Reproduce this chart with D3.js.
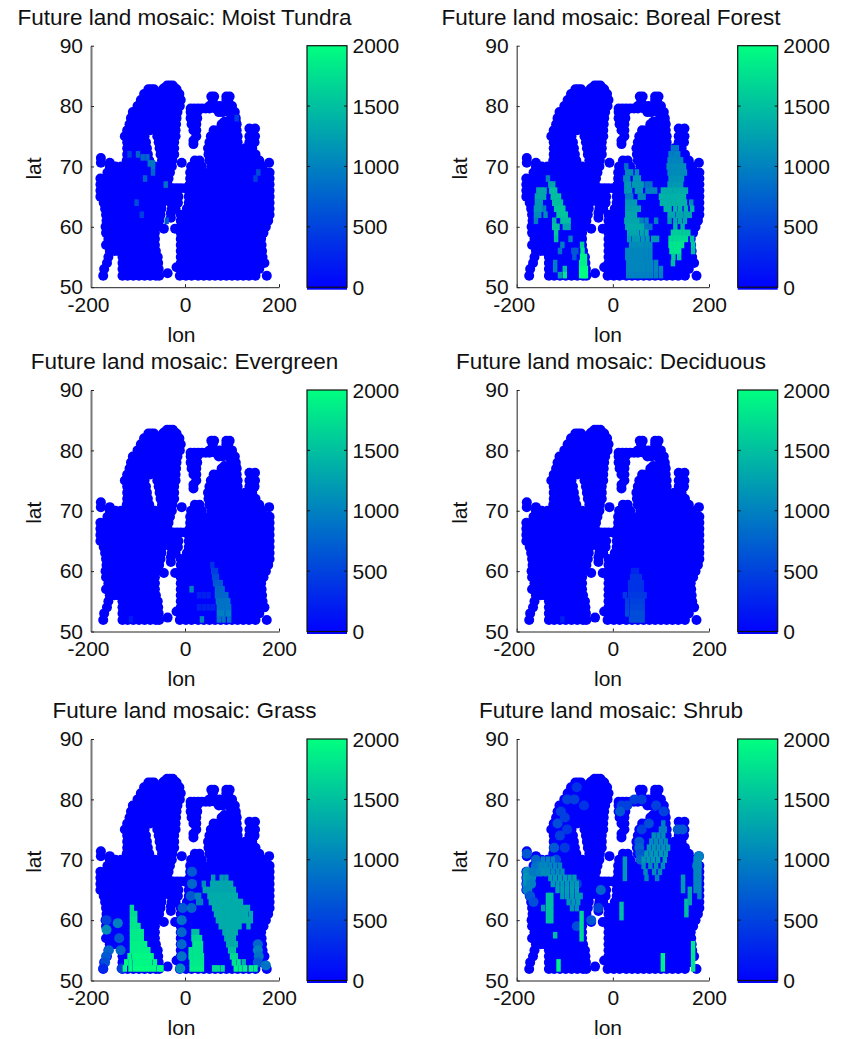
<!DOCTYPE html>
<html lang="en">
<head>
<meta charset="utf-8">
<title>Future land mosaic</title>
<script src="https://d3js.org/d3.v7.min.js"></script>
<style>
  body { margin: 0; background: #fff; }
  svg { display: block; }
  text { font-family: "Liberation Sans", Arial, sans-serif; fill: #111; }
</style>
</head>
<body>
<script>
// tick labels
const lonTicks = [-200, 0, 200];
const latTicks = [50, 60, 70, 80, 90];
const barTicks = [0, 500, 1000, 1500, 2000];

// land points, one lon list per lat row
const naMid = [-134, -122, -110, -98, -86, -74];
const euMid = [28, 40, 52, 64, 76, 88, 100, 112, 124, 136];
const landLat = [83.4, 83, 82.8, 82, 81.6, 81, 80, 79.6, 79, 78, 77.4, 77, 76.3, 76, 75, 74.3, 74, 73.7, 73, 72, 71.4, 71, 70.6, 70, 69, 68, 67, 66.4, 66, 65, 64, 63, 62.3, 62, 61.5, 61, 60, 59.7, 59, 58, 57, 56, 55, 54, 53.3, 53, 52.3, 51.9];
const landLon = [
  [-38, -32, -26],
  [-44, -36, -28, -22],
  [-78, -72, -66, -47, -18],
  [-87, -78, -68, -58, -48, -38, -28, -18, -12],
  [56, 62, 88, 95],
  [-94, -84, -74, -62, -50, -38, -26, -14, -9, 59, 88, 92],
  [-101, -90, -78, -66, -54, -42, -30, -18, -11, 52, 59, 66, 74, 84, 92, 100],
  [12, 20, 28, 36, 44, 52, 64],
  [-111, -100, -88, -76, -64, -52, -40, -28, -16, 12, 20, 26, 72, 80, 92, 100, 106],
  [-115, -104, -92, -80, -68, -56, -44, -32, -18, 12, 20, 26, 100, 108],
  [84, 92, 100, 108],
  [-118, -106, -94, -82, -70, -58, -46, -34, -19, 14, 20, 24, 78, 86, 94, 102, 110],
  [137, 149],
  [-123, -110, -98, -86, -74, -62, -50, -38, -20, 18, 24, 61, 70, 80, 90, 100, 110],
  [-128, -116, -104, -86, -59, -44, -32, -20, 24, 55, 65, 75, 85, 95, 105, 112, 137, 149],
  [18],
  [-123, -110, -98, -83, -56, -42, -30, -23, 52, 62, 72, 82, 92, 102, 112, 137, 148],
  [18],
  [-123, -110, -96, -81, -54, -42, -30, -23, 49, 58, 68, 78, 88, 98, 108, 114, 128, 136, 143],
  [-123, -110, -96, -79, -52, -40, -30, -23, 50, 60, 70, 80, 90, 100, 110, 120, 130, 140, 150],
  [-179],
  [-124, -112, -100, -88, -76, -49, -38, -27, 21, 31, 52, 62, 72, 84, 96, 108, 120, 132, 144, 158],
  [-179, -160, -7, 179],
  [-160, -148, -136, -124, -112, -100, -88, -76, -64, -52, -40, -28, 13, 22, 30, 36, 57, 68, 80, 92, 104, 116, 128, 140, 152, 165],
  [-165, -152, -140, ...naMid, -62, -50, -40, -32, 11, 20, ...euMid, 148, 160, 172, 180],
  [-180, -170, -158, -146, ...naMid, -62, -50, -35, 11, 20, ...euMid, 148, 160, 172, 180],
  [-180, -170, -158, -146, ...naMid, -62, -50, -37, 10, 18, ...euMid, 148, 160, 172, 180],
  [-25, -17, -9, 0],
  [-180, -170, -158, -146, ...naMid, -62, -50, -41, 8, 18, ...euMid, 148, 160, 172, 180],
  [-180, -170, -158, -146, ...naMid, -62, -52, -44, -30, -22, -14, 8, 18, ...euMid, 148, 160, 172, 180],
  [-173, -162, -150, -140, ...naMid, -62, -54, -48, -30, -22, -15, 8, 18, ...euMid, 148, 160, 172, 180],
  [-170, -158, -146, ...naMid, -62, -50, -28, -20, 4, 14, ...euMid, 148, 160, 172, 180],
  [-30],
  [-168, -158, -146, ...naMid, -62, -52, -9, 2, 14, ...euMid, 148, 160, 172, 180],
  [-30],
  [-167, -158, -146, ...naMid, -62, -55, -9, 2, 14, ...euMid, 148, 160, 170, 177],
  [-169, -158, -146, ...naMid, -62, -60, -9, 2, 14, ...euMid, 148, 160, 172],
  [-45, -21],
  [-168, -156, -146, ...naMid, -64, -9, 2, 14, ...euMid, 148, 160, 167],
  [-163, -150, -140, ...naMid, -64, -9, 2, 14, ...euMid, 148, 158, 162],
  [-168, -156, -146, ...naMid, -64, -9, 2, 14, ...euMid, 148, 158, 163],
  [-160, -150, -142, ...naMid, -62, -9, 2, 14, ...euMid, 148, 158, 164],
  [-163, -133, -122, -110, -98, -86, -74, -62, -58, -9, 2, 14, ...euMid, 148, 160, 165],
  [-166, -133, -122, -110, -98, -86, -74, -62, -57, -9, 2, 14, ...euMid, 148, 160, 169],
  [-18],
  [-172, -133, -122, -110, -98, -86, -74, -62, -56, -10, 2, 14, ...euMid, 148, 158],
  [-37],
  [-174, -133, -122, -110, -98, -86, -74, -62, -55, -11, 2, 14, ...euMid, 150, 174]
];

// coloured cells as [value, lat, [lons]]: "big" draw as full markers, "fine" show as streaks
const tundraFine = [
  [800, 72, [-100]], [500, 72, [-118]], [800, 71.5, [-90, -80]], [950, 70.5, [-75, -68]],
  [900, 70, [-68]], [800, 69, [-68]], [750, 68, [-85]], [900, 67, [-41]], [600, 64, [-103]],
  [500, 62, [-92]], [700, 61, [-39]], [600, 69, [156]], [500, 68, [150]], [500, 78, [110]]
];
const borealFine = [
  [1000, 68, [-135]], [1300, 67, [-130, -124]],
  [1300, 66, [-155, -148, -142]], [1500, 66, [-128, -120]],
  [1300, 65, [-158, -150, -143]], [1500, 65, [-125, -118, -112]],
  [1200, 64, [-158, -150]], [1500, 64, [-122, -115, -108]],
  [1200, 63, [-160, -152]], [1000, 63, [-143]], [1550, 63, [-118, -110, -103]],
  [1100, 62, [-160, -153, -140]], [1550, 62, [-113, -105, -98]],
  [1000, 61, [-160]], [1400, 61, [-122]], [1500, 61, [-105, -98, -92]],
  [1500, 60, [-122, -115]], [1300, 60, [-100, -92]], [1600, 59, [-118]], [1500, 58, [-118]],
  [1000, 58, [-88]], [1000, 57, [-105]], [1600, 57, [-64]], [900, 56, [-110]], [1800, 56, [-63]],
  [700, 56, [-82, -76]], [700, 55, [-80]], [1000, 54, [-120]], [1000, 53, [-120]],
  [1900, 55, [-64, -58]], [1900, 54, [-66, -58]], [2000, 53, [-66, -60, -56]], [1500, 53, [-100]],
  [2000, 52, [-66, -60, -56]], [1800, 52, [-100]], [1200, 52, [-110]],
  [900, 73, [125, 133]], [1000, 72, [120, 128, 136]], [1050, 71, [118, 126, 134, 142]],
  [900, 70, [28]], [1100, 70, [116, 124, 132, 140, 148]],
  [1100, 69, [30, 38, 50, 118, 126, 134, 142, 150]],
  [1100, 68, [26, 32]], [1200, 68, [46, 54]], [1150, 68, [120, 128, 136, 144]],
  [1200, 67, [28, 34, 44, 52, 60, 118, 126, 134, 142]], [900, 67, [70, 78]],
  [1200, 66, [28, 36, 50, 58]], [1000, 66, [72, 80, 88]], [1350, 66, [104, 112, 120, 128, 136, 144, 152]],
  [1000, 65, [30, 38]], [1100, 65, [56, 64]], [1400, 65, [100, 108, 116, 124, 132, 140, 148]],
  [1200, 64, [30, 38, 46]], [1400, 64, [102, 110, 118, 126, 134, 142, 150]], [1100, 64, [163]],
  [1250, 63, [30, 38, 46, 54]], [1400, 63, [110, 118, 130, 140, 152, 165]],
  [1300, 62, [30, 38, 46, 118, 125, 135, 143, 152, 160]],
  [1300, 61, [28, 36, 44, 52, 130, 140, 150]], [1000, 61, [60, 70, 90]], [1200, 61, [118]],
  [1350, 60, [30, 38, 46, 54, 62]], [900, 60, [70, 78]], [1400, 60, [130, 145]],
  [1300, 59, [34, 42, 50, 60, 70]], [1600, 59, [125, 133, 141, 149, 157]],
  [1200, 58, [34, 44, 52, 62, 72, 84, 92]], [1700, 58, [120, 128, 136, 144, 152]], [1500, 58, [165]],
  [1100, 57, [38, 46, 54, 62, 70, 78]], [1800, 57, [120, 128, 136, 144]], [1600, 57, [167]],
  [1050, 56, [30, 38, 46, 54, 62, 70, 78]], [1800, 56, [122, 130, 138]], [1500, 56, [167]],
  [1050, 55, [30, 38, 46, 54, 62, 70, 78]], [1600, 55, [126, 138]],
  [1050, 54, [32, 40, 48, 56, 64, 72, 80, 90]], [1500, 54, [125]],
  [1050, 53, [32, 40, 48, 56, 64, 72, 80, 90, 100]], [1000, 52, [32, 40, 48, 56, 64, 72, 80, 90, 100]]
];
const evergreenFine = [
  [400, 61, [58]], [500, 60, [60, 66]], [600, 59, [62, 68]], [700, 58, [64, 70, 76]], [1000, 57, [14]],
  [800, 57, [68, 74, 80]], [800, 56, [68, 74, 80, 88]], [900, 55, [70, 78, 86, 92]],
  [900, 54, [72, 80, 88, 94]], [1000, 53, [72, 80, 90, 94]], [900, 52, [72, 82, 94]], [1000, 52, [36]],
  [250, 56, [30, 40, 50]], [250, 54, [30, 40, 50, 60]], [200, 52, [-115]]
];
const deciduousFine = [
  [300, 60, [42, 50]], [400, 59, [40, 48, 56]], [400, 58, [36, 44, 52, 60]], [400, 57, [36, 44, 52, 60]],
  [450, 56, [25, 36, 44, 52, 58, 66]], [500, 55, [30, 40, 48, 56, 62]], [550, 54, [30, 40, 48, 56, 62]],
  [600, 53, [30, 40, 48, 56, 62]], [600, 52, [38, 46, 54, 62]], [250, 52, [-105]]
];
const grassBig = [
  [500, 60, [-167]], [1100, 58.4, [-167]], [1000, 59.5, [-143]], [700, 57, [-140]], [800, 55, [-162]],
  [800, 55, [-137]], [700, 54, [-168]], [600, 53, [-170]], [500, 52, [-135]], [300, 52, [-174]],
  [700, 62, [-5]], [900, 60, [-7]], [800, 58, [-7]], [800, 56, [-7]], [900, 54, [-7]], [1100, 52, [-10]],
  [700, 68, [15]], [800, 66, [15]], [700, 64, [12]], [800, 62, [14]],
  [800, 56, [155]], [1000, 55, [155]], [900, 54, [157]], [700, 53, [155]], [900, 52.5, [172]]
];
const grassFine = [
  [1700, 62, [-113]], [1750, 61, [-113, -106]], [1800, 60, [-113, -106]], [1800, 59, [-113, -106, -99]],
  [1850, 58, [-113, -106, -99, -92]], [1850, 57, [-113, -106, -99, -92]],
  [1900, 56, [-113, -106, -99, -92, -85]], [1900, 55, [-113, -106, -99, -92, -85, -78]],
  [1950, 54, [-118, -108, -100, -92, -84, -76, -71]], [1950, 53, [-125, -116, -106, -98, -90, -82, -74, -64]],
  [2000, 52, [-128, -116, -106, -98, -90, -82, -74, -66, -56, -50]],
  [1200, 67, [60, 78, 88]], [1100, 66, [40]], [1300, 66, [58, 66, 74, 82, 90, 98]],
  [1300, 65, [42, 50, 58, 66, 74, 82, 90, 98, 104]],
  [1000, 64, [25, 30]], [1350, 64, [52, 60, 68, 76, 84, 92, 100, 108]],
  [1000, 63, [28, 34]], [1350, 63, [55, 63, 71, 79, 87, 95, 103, 111, 119]],
  [1350, 62, [62, 70, 78, 86, 94, 102, 110, 118, 126, 134]],
  [1350, 61, [66, 74, 82, 90, 98, 106, 114, 122, 130, 140]],
  [1350, 60, [70, 78, 86, 94, 102, 110, 118, 126, 134, 140]],
  [1350, 59, [76, 84, 92, 100, 108, 116, 135]], [1350, 58, [84, 92, 100, 108]],
  [1350, 57, [88, 96, 104]], [1350, 56, [92, 100, 108]], [1500, 55, [96, 104]],
  [1700, 54, [100, 108]], [1800, 53, [104, 114]], [1400, 53, [125]], [1900, 52, [108, 118, 128, 140, 150]],
  [1500, 58, [18, 26]], [1700, 57, [18, 24, 32]], [1800, 56, [20, 28, 34]], [1800, 55, [12, 20, 28, 34]],
  [1800, 54, [12, 20, 28, 36]], [1850, 53, [14, 22, 30, 36]], [1900, 52, [14, 22, 30, 36]], [1700, 52, [62, 70, 80]]
];
const shrubBig = [
  [700, 71, [-179]], [1100, 68, [-178]], [1200, 67, [-178]], [1150, 66, [-178]], [1000, 65, [-178]],
  [1100, 67, [-170]], [1000, 66, [-170]], [900, 69, [-160]], [950, 68, [-165, -158]],
  [700, 64, [-172]], [600, 63, [-165]], [800, 70, [-160]], [900, 69, [-155, -145]], [1000, 68, [-150, -140]],
  [400, 82, [-75]], [500, 80, [-95, -80]], [500, 78, [-108]], [600, 76, [-115]], [500, 74, [-110]],
  [700, 72, [-122]], [450, 72, [-100]], [600, 70, [-118]], [500, 66, [-75]], [600, 59, [-75]],
  [500, 77, [-100]], [450, 75, [-95]], [400, 79, [-60]],
  [700, 60, [-45]], [800, 65, [-25]], [500, 62, [-30]],
  [500, 79, [18, 30, 90]], [700, 78, [15]], [500, 80, [45, 60]], [700, 73, [55]], [800, 72, [55]],
  [700, 71, [57]], [500, 75, [60]], [800, 70, [58]], [600, 76, [75]], [500, 78, [106]],
  [700, 75, [135, 145]], [1000, 70.6, [179]], [900, 69, [175]]
];
const shrubFine = [
  [1000, 76, [105]], [1000, 75, [100, 108]], [1100, 74, [85, 95, 105]], [1100, 73, [80, 90, 100, 110]],
  [1150, 72, [75, 85, 95, 105, 115]], [1200, 71, [70, 80, 90, 100, 110]], [1200, 70, [64, 74, 84, 94, 108]],
  [1100, 69, [64, 78, 90, 104]], [1100, 68, [68, 86, 98]], [1000, 67, [70, 92]],
  [1000, 70, [-145, -135, -125]], [1050, 69, [-150, -140, -130, -120, -110]], [1100, 68, [-145, -135, -125, -115, -105]],
  [1200, 67, [-130, -120, -110, -100, -90, -80]], [1200, 66, [-125, -115, -105, -95, -85, -75]],
  [1250, 65, [-115, -105, -95, -85, -75]], [1200, 64, [-105, -95, -85, -75, -67]], [1200, 63, [-92, -82, -72]],
  [1150, 62, [-85, -75]],
  [1500, 64, [-135, -128]], [1500, 63, [-135, -128]], [1500, 62, [-135, -128]], [1500, 61, [-135, -128]],
  [1500, 60, [-135, -128]], [1200, 62, [-145]],
  [1700, 61, [-65]], [1700, 60, [-65]], [1700, 59, [-65]], [1700, 58, [-65]], [1700, 57, [-65]],
  [1500, 57.5, [-120]], [1900, 53, [-113]], [1900, 52, [-113]],
  [1500, 62.5, [18]], [1500, 61.5, [18]], [1500, 60.5, [18]],
  [1200, 70, [25]], [1200, 69, [25]], [1200, 68, [25]], [1200, 67, [25]],
  [1900, 54, [104]], [1900, 53, [104]], [1900, 52, [104]],
  [1800, 56, [167]], [1800, 55, [167]], [1800, 54, [167]], [1800, 53, [167]], [1800, 52, [167]],
  [1500, 63, [153]], [1500, 62, [153]], [1500, 61, [153]],
  [1200, 67, [146]], [1200, 66, [146]], [1200, 65, [146]], [1300, 65, [160]], [1300, 64, [160]], [1300, 63, [160]],
  [1050, 70, [172, 180]], [1050, 69, [172, 180]], [1050, 68, [172, 180]], [1050, 67, [172, 180]],
  [1050, 66, [172, 180]], [1050, 65, [172, 180]], [1000, 64, [180]]
];

const panels = [
  { title: "Future land mosaic: Moist Tundra", big: [], fine: tundraFine },
  { title: "Future land mosaic: Boreal Forest", big: [], fine: borealFine },
  { title: "Future land mosaic: Evergreen", big: [], fine: evergreenFine },
  { title: "Future land mosaic: Deciduous", big: [], fine: deciduousFine },
  { title: "Future land mosaic: Grass", big: grassBig, fine: grassFine },
  { title: "Future land mosaic: Shrub", big: shrubBig, fine: shrubFine }
];

const rowTop = [45.7, 390, 739];
const colLeft = [91, 516.7];
const colWidth = [188, 192.3];
const colBar = [307, 737.7];
const colTitle = [184.5, 611];
const plotH = 241.5;
const barW = 40;

const svg = d3.select("body").append("svg").attr("width", 846).attr("height", 1039);

const color = d3.scaleLinear().domain([0, 2000]).range(["#0000ff", "#00ff80"]);

// colormap for the bars
const grad = svg.append("defs").append("linearGradient")
  .attr("id", "winter").attr("x1", 0).attr("x2", 0).attr("y1", 1).attr("y2", 0);
grad.selectAll("stop").data(barTicks).join("stop")
  .attr("offset", d => d / 2000)
  .attr("stop-color", d => color(d));

// flatten [value, lat, [lons]] rows into points
const flatten = rows => rows.flatMap(([v, lat, lons]) => lons.map(lon => ({ lon, lat, v })));
const landPoints = landLat.flatMap((lat, i) => landLon[i].map(lon => ({ lon, lat, v: 0 })));

panels.forEach((p, i) => {
  const col = i % 2;
  const row = Math.floor(i / 2);
  const w = colWidth[col];
  const g = svg.append("g").attr("transform", `translate(${colLeft[col]},${rowTop[row]})`);

  const x = d3.scaleLinear().domain([-200, 200]).range([0, w]);
  const y = d3.scaleLinear().domain([50, 90]).range([plotH, 0]);

  const dots = data => g.append("g").selectAll("circle").data(data).join("circle")
    .attr("cx", d => x(d.lon))
    .attr("cy", d => y(d.lat))
    .attr("r", 5)
    .attr("fill", d => color(d.v));

  dots(landPoints);
  dots(flatten(p.big));

  // overplotted markers only leave thin strips of colour showing
  g.append("g").selectAll("rect").data(flatten(p.fine)).join("rect")
    .attr("x", d => x(d.lon) - 2.2)
    .attr("y", d => y(d.lat) - 3.3)
    .attr("width", 4.4)
    .attr("height", 6.6)
    .attr("fill", d => color(d.v));

  // axes, ticks point inward
  const xAxis = g.append("g").attr("transform", `translate(0,${plotH})`)
    .call(d3.axisBottom(x).tickValues(lonTicks).tickFormat(d => String(d)).tickSize(-3).tickSizeOuter(0));
  const yAxis = g.append("g")
    .call(d3.axisLeft(y).tickValues(latTicks).tickSize(-3).tickSizeOuter(0).tickPadding(8));
  xAxis.selectAll("text").attr("font-size", 21).attr("dy", "0.71em").attr("y", 10)
    .attr("dx", d => d < 0 ? -3 : 0);
  yAxis.selectAll("text").attr("font-size", 21);
  xAxis.selectAll("path,line").attr("stroke", "#222");
  yAxis.selectAll("line").attr("stroke", "#222");
  yAxis.select("path").attr("stroke", col === 0 ? "#777" : "#444").attr("stroke-width", col === 0 ? 2 : 1.2);

  svg.append("text").attr("x", colTitle[col]).attr("y", rowTop[row] - 21)
    .attr("text-anchor", "middle").attr("font-size", 22.5).text(p.title);
  svg.append("text").attr("x", colTitle[col] - 3).attr("y", rowTop[row] + plotH + 54.5)
    .attr("text-anchor", "middle").attr("font-size", 21).text("lon");
  g.append("text").attr("transform", `translate(-50,${plotH / 2 + 2}) rotate(-90)`)
    .attr("text-anchor", "middle").attr("font-size", 21).text("lat");

  // colorbar
  const bar = svg.append("g").attr("transform", `translate(${colBar[col]},${rowTop[row]})`);
  const by = d3.scaleLinear().domain([0, 2000]).range([plotH, 0]);
  bar.append("rect").attr("width", barW).attr("height", plotH + 2.5).attr("fill", "url(#winter)");
  bar.append("rect").attr("width", barW).attr("height", plotH)
    .attr("fill", "none").attr("stroke", "#111").attr("stroke-width", 1.2);
  const inner = barTicks.filter(t => t > 0 && t < 2000);
  bar.selectAll("line.l").data(inner).join("line").attr("class", "l")
    .attr("x1", 0).attr("x2", 3).attr("y1", by).attr("y2", by).attr("stroke", "#111");
  bar.selectAll("line.r").data(inner).join("line").attr("class", "r")
    .attr("x1", barW - 3).attr("x2", barW).attr("y1", by).attr("y2", by).attr("stroke", "#111");
  bar.selectAll("text").data(barTicks).join("text")
    .attr("x", barW + 5.5).attr("y", by).attr("dy", "0.36em")
    .attr("font-size", 21).text(d => d);
});
</script>
</body>
</html>
